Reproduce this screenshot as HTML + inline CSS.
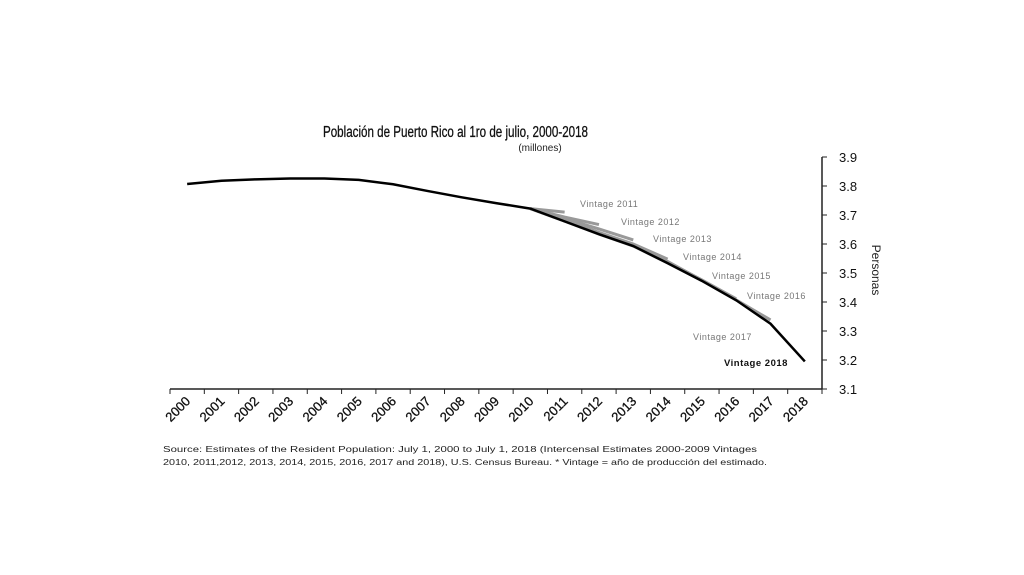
<!DOCTYPE html>
<html><head><meta charset="utf-8"><style>
body{margin:0;background:#fff;width:1024px;height:575px;overflow:hidden;font-family:"Liberation Sans",sans-serif}
svg{display:block}
</style></head><body>
<svg id="c" width="1024" height="575">
<text x="323" y="137" textLength="265" lengthAdjust="spacingAndGlyphs" font-size="16" fill="#111" stroke="#111" stroke-width="0.3">Población de Puerto Rico al 1ro de julio, 2000-2018</text>
<text x="540" y="151" text-anchor="middle" font-size="10" fill="#222">(millones)</text>
<text transform="translate(872,270) rotate(90)" text-anchor="middle" font-size="12" fill="#222">Personas</text>
<text x="163" y="452" textLength="594" lengthAdjust="spacingAndGlyphs" font-size="8" fill="#222">Source: Estimates of the Resident Population: July 1, 2000 to July 1, 2018 (Intercensal Estimates 2000-2009 Vintages</text>
<text x="163" y="465" textLength="604" lengthAdjust="spacingAndGlyphs" font-size="8" fill="#222">2010, 2011,2012, 2013, 2014, 2015, 2016, 2017 and 2018), U.S. Census Bureau.  * Vintage = año de producción del estimado.</text>
<g id="axes"></g><g id="marks"></g>
</svg>
<script>
const years=["2000","2001","2002","2003","2004","2005","2006","2007","2008","2009","2010","2011","2012","2013","2014","2015","2016","2017","2018"];
const population=[3.807,3.818,3.823,3.826,3.826,3.821,3.806,3.783,3.761,3.741,3.722,3.678,3.634,3.593,3.534,3.473,3.406,3.325,3.195];
const yTicks=[3.1,3.2,3.3,3.4,3.5,3.6,3.7,3.8,3.9];
const vintageNames=["Vintage 2011","Vintage 2012","Vintage 2013","Vintage 2014","Vintage 2015","Vintage 2016","Vintage 2017"];
const vintage2011=[3.722,3.710];
const vintage2012=[3.722,3.693,3.667];
const vintage2013=[3.722,3.688,3.652,3.614];
const vintage2014=[3.722,3.683,3.640,3.600,3.548];
const vintage2015=[3.722,3.680,3.636,3.596,3.540,3.475];
const vintage2016=[3.722,3.679,3.635,3.594,3.537,3.476,3.411];
const vintage2017=[3.722,3.679,3.634,3.593,3.535,3.474,3.407,3.338];
const NS="http://www.w3.org/2000/svg";
const x0=170,x1=822,yb=389,yt=157;
const step=(x1-x0)/years.length;
const X=i=>x0+step*(i+0.5);
const Y=v=>yb-(v-3.1)/(3.9-3.1)*(yb-yt);
const ax=document.getElementById('axes'),mk=document.getElementById('marks');
function mkEl(t,a,p){const e=document.createElementNS(NS,t);for(const k in a)e.setAttribute(k,a[k]);p.appendChild(e);return e;}
const xl=mkEl('line',{x1:x0,y1:yb,x2:x1,y2:yb,stroke:'#222','stroke-width':1.5},ax);


const yl=mkEl('line',{x1:x1,y1:yt,x2:x1,y2:yb,stroke:'#222','stroke-width':1.5},ax);


for(let i=0;i<=years.length;i++){mkEl('line',{x1:x0+step*i,y1:yb,x2:x0+step*i,y2:yb+5,stroke:'#222'},ax);}
years.forEach((y,i)=>{const px=X(i)+4,py=yb+13;const t=mkEl('text',{x:px,y:py,'font-size':13,fill:'#111',stroke:'#111','stroke-width':0.3,'text-anchor':'end',transform:`rotate(-45 ${px} ${py})`},ax);t.textContent=y;

});
yTicks.forEach(v=>{mkEl('line',{x1:x1,y1:Y(v),x2:x1+5,y2:Y(v),stroke:'#222'},ax);const t=mkEl('text',{x:x1+17,y:Y(v)+5,'font-size':13,fill:'#111'},ax);t.textContent=v.toFixed(1);

});
const vint=[vintage2011,vintage2012,vintage2013,vintage2014,vintage2015,vintage2016,vintage2017];
vint.forEach((s,k)=>{const pts=s.map((v,j)=>X(10+j)+','+Y(v)).join(' ');
const p=mkEl('polyline',{points:pts,fill:'none',stroke:'#999','stroke-width':3},mk);

});
const main=mkEl('polyline',{points:population.map((v,i)=>X(i)+','+Y(v)).join(' '),fill:'none',stroke:'#000','stroke-width':2.5},mk);


const lblPos=[[580,207],[621,225],[653,242],[683,260],[712,279],[747,299],[693,340]];
vintageNames.forEach((n,k)=>{const t=mkEl('text',{x:lblPos[k][0],y:lblPos[k][1],'font-size':9,fill:'#777','letter-spacing':0.5},mk);t.textContent=n;

});
const t18=mkEl('text',{x:724,y:366,'font-size':9.5,'font-weight':'bold',fill:'#111','letter-spacing':0.5},mk);t18.textContent="Vintage 2018";


</script>
</body></html>
